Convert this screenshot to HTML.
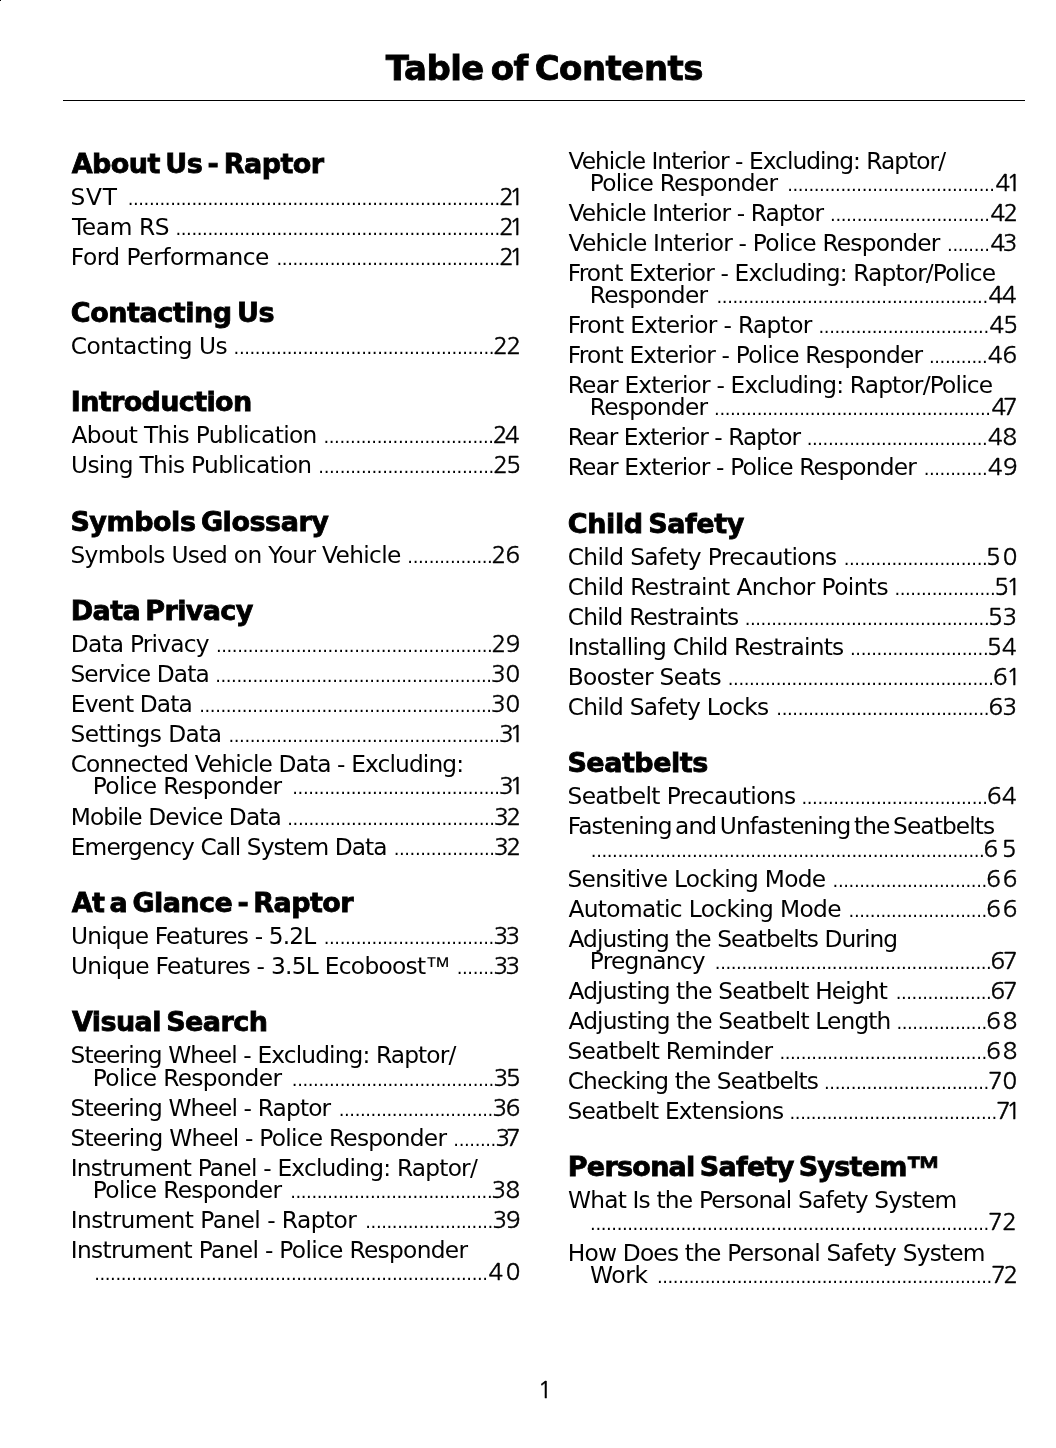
<!DOCTYPE html>
<html lang="en">
<head>
<meta charset="utf-8">
<title>Table of Contents</title>
<style>
*{margin:0;padding:0;box-sizing:border-box}
html,body{width:1056px;height:1448px;background:#fff;overflow:hidden}
body{color:#000;font-family:"DejaVu Sans", "Liberation Sans", sans-serif}
.page{position:relative;width:1056px;height:1448px;background:#fff;overflow:hidden}
.page h1,.page h2,.page hr,.page span,.page footer,.page i{position:absolute;white-space:nowrap}
.page ol{list-style:none}
i{left:0;top:0;width:1px;height:1px;background:#000}
h1{font:700 34px/44px "DejaVu Sans", "Liberation Sans", sans-serif;-webkit-text-stroke:.8px #000;letter-spacing:-.8px}
hr{border:0;height:1px;background:#000}
h2{font:700 27px/34px "DejaVu Sans", "Liberation Sans", sans-serif;-webkit-text-stroke:.8px #000;letter-spacing:-.7px}
.t{font:400 23.3px/30px "DejaVu Sans", "Liberation Sans", sans-serif;letter-spacing:-.65px}
.d{font:400 18px/30px "DejaVu Sans", "Liberation Sans", sans-serif;letter-spacing:-.404px}
.p,footer{font:400 24px/30px "NanumGothic", "DejaVu Sans", "Liberation Sans", sans-serif;-webkit-text-stroke:.4px #000}
.tm{font:inherit;font-family:"Liberation Sans","DejaVu Sans",sans-serif;font-size:111%;line-height:0;vertical-align:-.05em}
h2 .tm{font-size:132%;vertical-align:-.15em;margin-left:-1px}
</style>
</head>
<body>
<main class="page">
<i></i>
<header>
<h1 style="left:385.67px;top:46px;letter-spacing:-.516px;word-spacing:-4.5px">Table of Contents</h1>
<hr style="left:63px;top:100px;width:962px">
</header>
<div class="col">
<section>
<h2 style="left:71.65px;top:147px;letter-spacing:-.525px;word-spacing:-3.5px">About Us - Raptor</h2>
<ol>
<li><span class="t" style="left:70.47px;top:182px;letter-spacing:.827px">SVT</span><span class="d" style="left:127.63px;top:184px">......................................................................</span><span class="p" style="left:499.13px;top:181px;letter-spacing:-4.37px">21</span></li>
<li><span class="t" style="left:72px;top:212px;letter-spacing:-.41px">Team RS</span><span class="d" style="left:175.49px;top:214px">.............................................................</span><span class="p" style="left:499.13px;top:211px;letter-spacing:-4.37px">21</span></li>
<li><span class="t" style="left:70.8px;top:242px;letter-spacing:-.481px">Ford Performance</span><span class="d" style="left:276.5px;top:244px">..........................................</span><span class="p" style="left:499.13px;top:241px;letter-spacing:-4.37px">21</span></li>
</ol>
</section>
<section>
<h2 style="left:70.86px;top:296px;letter-spacing:-.466px;word-spacing:-3.5px">Contacting Us</h2>
<ol>
<li><span class="t" style="left:70.72px;top:331px;letter-spacing:-.531px">Contacting Us</span><span class="d" style="left:233.57px;top:333px">.................................................</span><span class="p" style="left:493.26px;top:330px;letter-spacing:-1.21px">22</span></li>
</ol>
</section>
<section>
<h2 style="left:70.84px;top:385px;letter-spacing:-.653px">Introduction</h2>
<ol>
<li><span class="t" style="left:71.51px;top:420px;letter-spacing:-.632px">About This Publication</span><span class="d" style="left:323.49px;top:422px">................................</span><span class="p" style="left:492.77px;top:419px;letter-spacing:-2.35px">24</span></li>
<li><span class="t" style="left:71.06px;top:450px;letter-spacing:-.689px">Using This Publication</span><span class="d" style="left:318.37px;top:452px">.................................</span><span class="p" style="left:493.13px;top:449px;letter-spacing:-1.46px">25</span></li>
</ol>
</section>
<section>
<h2 style="left:70.38px;top:505px;letter-spacing:-.466px;word-spacing:-3.5px">Symbols Glossary</h2>
<ol>
<li><span class="t" style="left:70.47px;top:540px;letter-spacing:-.668px">Symbols Used on Your Vehicle</span><span class="d" style="left:407.36px;top:542px">................</span><span class="p" style="left:491.6px;top:539px;letter-spacing:-.59px">26</span></li>
</ol>
</section>
<section>
<h2 style="left:70.84px;top:594px;letter-spacing:-.631px;word-spacing:-3.5px">Data Privacy</h2>
<ol>
<li><span class="t" style="left:70.8px;top:629px;letter-spacing:-.783px">Data Privacy</span><span class="d" style="left:215.91px;top:631px">....................................................</span><span class="p" style="left:491.6px;top:628px;letter-spacing:-.51px">29</span></li>
<li><span class="t" style="left:70.47px;top:659px;letter-spacing:-.896px">Service Data</span><span class="d" style="left:215.16px;top:661px">....................................................</span><span class="p" style="left:491.07px;top:658px;letter-spacing:-.09px">30</span></li>
<li><span class="t" style="left:70.8px;top:689px;letter-spacing:-.876px">Event Data</span><span class="d" style="left:199.2px;top:691px">.......................................................</span><span class="p" style="left:491.07px;top:688px;letter-spacing:-.09px">30</span></li>
<li><span class="t" style="left:70.47px;top:719px;letter-spacing:-.584px">Settings Data</span><span class="d" style="left:228.48px;top:721px">...................................................</span><span class="p" style="left:499.07px;top:718px;letter-spacing:-4.16px">31</span></li>
<li><span class="t" style="left:70.72px;top:749px;letter-spacing:-.88px">Connected Vehicle Data - Excluding:</span><span class="t" style="left:92.8px;top:771px;letter-spacing:-.658px">Police Responder</span><span class="d" style="left:292.29px;top:773px">.......................................</span><span class="p" style="left:499.07px;top:770px;letter-spacing:-4.16px">31</span></li>
<li><span class="t" style="left:70.8px;top:802px;letter-spacing:-.917px">Mobile Device Data</span><span class="d" style="left:287.29px;top:804px">.......................................</span><span class="p" style="left:494.07px;top:801px;letter-spacing:-2.1px">32</span></li>
<li><span class="t" style="left:70.8px;top:832px;letter-spacing:-.912px">Emergency Call System Data</span><span class="d" style="left:393.65px;top:834px">...................</span><span class="p" style="left:494.07px;top:831px;letter-spacing:-2.1px">32</span></li>
</ol>
</section>
<section>
<h2 style="left:71.65px;top:886px;letter-spacing:-.594px;word-spacing:-3.5px">At a Glance - Raptor</h2>
<ol>
<li><span class="t" style="left:71.06px;top:921px;letter-spacing:-.845px">Unique Features - 5.2L</span><span class="d" style="left:323.74px;top:923px">................................</span><span class="p" style="left:493.39px;top:920px;letter-spacing:-2.36px">33</span></li>
<li><span class="t" style="left:71.06px;top:951px;letter-spacing:-.725px">Unique Features - 3.5L Ecoboost<b class="tm">™</b></span><span class="d" style="left:456.69px;top:953px">.......</span><span class="p" style="left:493.39px;top:950px;letter-spacing:-2.36px">33</span></li>
</ol>
</section>
<section>
<h2 style="left:71.89px;top:1005px;letter-spacing:-.573px;word-spacing:-3.5px">Visual Search</h2>
<ol>
<li><span class="t" style="left:70.47px;top:1040px;letter-spacing:-.873px">Steering Wheel - Excluding: Raptor/</span><span class="t" style="left:92.8px;top:1063px;letter-spacing:-.658px">Police Responder</span><span class="d" style="left:291.83px;top:1065px">......................................</span><span class="p" style="left:493.39px;top:1062px;letter-spacing:-1.81px">35</span></li>
<li><span class="t" style="left:70.47px;top:1093px;letter-spacing:-.853px">Steering Wheel - Raptor</span><span class="d" style="left:338.69px;top:1095px">.............................</span><span class="p" style="left:492.39px;top:1092px;letter-spacing:-1.15px">36</span></li>
<li><span class="t" style="left:70.47px;top:1123px;letter-spacing:-.759px">Steering Wheel - Police Responder</span><span class="d" style="left:453.37px;top:1125px">........</span><span class="p" style="left:495.39px;top:1122px;letter-spacing:-3.9px">37</span></li>
<li><span class="t" style="left:70.77px;top:1153px;letter-spacing:-.79px">Instrument Panel - Excluding: Raptor/</span><span class="t" style="left:92.8px;top:1175px;letter-spacing:-.658px">Police Responder</span><span class="d" style="left:290.13px;top:1177px">......................................</span><span class="p" style="left:491.51px;top:1174px;letter-spacing:-.61px">38</span></li>
<li><span class="t" style="left:70.77px;top:1205px;letter-spacing:-.557px">Instrument Panel - Raptor</span><span class="d" style="left:365.28px;top:1207px">........................</span><span class="p" style="left:492.39px;top:1204px;letter-spacing:-.98px">39</span></li>
<li><span class="t" style="left:70.77px;top:1235px;letter-spacing:-.689px">Instrument Panel - Police Responder</span><span class="d" style="left:94.14px;top:1259px">..........................................................................</span><span class="p" style="left:488.56px;top:1256px;letter-spacing:2.54px">40</span></li>
</ol>
</section>
</div>
<div class="col">
<section>
<ol>
<li><span class="t" style="left:568.56px;top:146px;letter-spacing:-.977px">Vehicle Interior - Excluding: Raptor/</span><span class="t" style="left:589.8px;top:168px;letter-spacing:-.724px">Police Responder</span><span class="d" style="left:787.21px;top:170px">.......................................</span><span class="p" style="left:995.48px;top:167px;letter-spacing:-3.55px">41</span></li>
<li><span class="t" style="left:568.56px;top:198px;letter-spacing:-.882px">Vehicle Interior - Raptor</span><span class="d" style="left:830.07px;top:200px">..............................</span><span class="p" style="left:990.48px;top:197px;letter-spacing:-1.48px">42</span></li>
<li><span class="t" style="left:568.56px;top:228px;letter-spacing:-.769px">Vehicle Interior - Police Responder</span><span class="d" style="left:947.07px;top:230px">........</span><span class="p" style="left:990.48px;top:227px;letter-spacing:-2.33px">43</span></li>
<li><span class="t" style="left:567.8px;top:258px;letter-spacing:-.861px">Front Exterior - Excluding: Raptor/Police</span><span class="t" style="left:589.8px;top:280px;letter-spacing:-.725px">Responder</span><span class="d" style="left:716.5px;top:282px">...................................................</span><span class="p" style="left:988.53px;top:279px;letter-spacing:-1.15px">44</span></li>
<li><span class="t" style="left:567.8px;top:310px;letter-spacing:-.663px">Front Exterior - Raptor</span><span class="d" style="left:818.54px;top:312px">................................</span><span class="p" style="left:989.53px;top:309px;letter-spacing:-.87px">45</span></li>
<li><span class="t" style="left:567.8px;top:340px;letter-spacing:-.786px">Front Exterior - Police Responder</span><span class="d" style="left:928.95px;top:342px">...........</span><span class="p" style="left:988.11px;top:339px;letter-spacing:-.1px">46</span></li>
<li><span class="t" style="left:567.8px;top:370px;letter-spacing:-.815px">Rear Exterior - Excluding: Raptor/Police</span><span class="t" style="left:589.8px;top:392px;letter-spacing:-.725px">Responder</span><span class="d" style="left:714.1px;top:394px">....................................................</span><span class="p" style="left:991.56px;top:391px;letter-spacing:-3.05px">47</span></li>
<li><span class="t" style="left:567.8px;top:422px;letter-spacing:-.964px">Rear Exterior - Raptor</span><span class="d" style="left:806.64px;top:424px">..................................</span><span class="p" style="left:988.11px;top:421px;letter-spacing:-.2px">48</span></li>
<li><span class="t" style="left:567.8px;top:452px;letter-spacing:-.837px">Rear Exterior - Police Responder</span><span class="d" style="left:923.63px;top:454px">............</span><span class="p" style="left:988.11px;top:451px;letter-spacing:.25px">49</span></li>
</ol>
</section>
<section>
<h2 style="left:567.86px;top:507px;letter-spacing:-.411px;word-spacing:-3.5px">Child Safety</h2>
<ol>
<li><span class="t" style="left:567.72px;top:542px;letter-spacing:-.618px">Child Safety Precautions</span><span class="d" style="left:843.69px;top:544px">...........................</span><span class="p" style="left:986.03px;top:541px;letter-spacing:2.17px">50</span></li>
<li><span class="t" style="left:567.72px;top:572px;letter-spacing:-.616px">Child Restraint Anchor Points</span><span class="d" style="left:894.41px;top:574px">...................</span><span class="p" style="left:994.23px;top:571px;letter-spacing:-2.48px">51</span></li>
<li><span class="t" style="left:567.72px;top:602px;letter-spacing:-.785px">Child Restraints</span><span class="d" style="left:744.64px;top:604px">..............................................</span><span class="p" style="left:988.03px;top:601px;letter-spacing:-.08px">53</span></li>
<li><span class="t" style="left:567.77px;top:632px;letter-spacing:-.788px">Installing Child Restraints</span><span class="d" style="left:850px;top:634px">..........................</span><span class="p" style="left:987.03px;top:631px;letter-spacing:.34px">54</span></li>
<li><span class="t" style="left:567.8px;top:662px;letter-spacing:-.662px">Booster Seats</span><span class="d" style="left:727.79px;top:664px">..................................................</span><span class="p" style="left:992.98px;top:661px;letter-spacing:-1.14px">61</span></li>
<li><span class="t" style="left:567.72px;top:692px;letter-spacing:-.696px">Child Safety Locks</span><span class="d" style="left:776.37px;top:694px">........................................</span><span class="p" style="left:988.4px;top:691px;letter-spacing:-.45px">63</span></li>
</ol>
</section>
<section>
<h2 style="left:567.38px;top:746px;letter-spacing:-.486px">Seatbelts</h2>
<ol>
<li><span class="t" style="left:567.47px;top:781px;letter-spacing:-.612px">Seatbelt Precautions</span><span class="d" style="left:801.48px;top:783px">...................................</span><span class="p" style="left:986.95px;top:780px;letter-spacing:.43px">64</span></li>
<li><span class="t" style="left:567.8px;top:811px;letter-spacing:-.903px;word-spacing:-3px">Fastening and Unfastening the Seatbelts</span><span class="d" style="left:590.85px;top:836px">..........................................................................</span><span class="p" style="left:983.62px;top:833px;letter-spacing:3.71px">65</span></li>
<li><span class="t" style="left:567.47px;top:864px;letter-spacing:-.715px">Sensitive Locking Mode</span><span class="d" style="left:832.61px;top:866px">.............................</span><span class="p" style="left:986.19px;top:863px;letter-spacing:2.05px">66</span></li>
<li><span class="t" style="left:568.51px;top:894px;letter-spacing:-.664px">Automatic Locking Mode</span><span class="d" style="left:848.57px;top:896px">..........................</span><span class="p" style="left:986.19px;top:893px;letter-spacing:2.05px">66</span></li>
<li><span class="t" style="left:568.51px;top:924px;letter-spacing:-.946px">Adjusting the Seatbelts During</span><span class="t" style="left:589.8px;top:946px;letter-spacing:-.803px">Pregnancy</span><span class="d" style="left:714.85px;top:948px">....................................................</span><span class="p" style="left:990.62px;top:945px;letter-spacing:-2.11px">67</span></li>
<li><span class="t" style="left:568.51px;top:976px;letter-spacing:-.866px">Adjusting the Seatbelt Height</span><span class="d" style="left:895.66px;top:978px">..................</span><span class="p" style="left:990.62px;top:975px;letter-spacing:-2.11px">67</span></li>
<li><span class="t" style="left:568.51px;top:1006px;letter-spacing:-.859px">Adjusting the Seatbelt Length</span><span class="d" style="left:896.43px;top:1008px">.................</span><span class="p" style="left:986.19px;top:1005px;letter-spacing:2px">68</span></li>
<li><span class="t" style="left:567.47px;top:1036px;letter-spacing:-.699px">Seatbelt Reminder</span><span class="d" style="left:779.43px;top:1038px">.......................................</span><span class="p" style="left:986.19px;top:1035px;letter-spacing:2px">68</span></li>
<li><span class="t" style="left:567.72px;top:1066px;letter-spacing:-.901px">Checking the Seatbelts</span><span class="d" style="left:824.06px;top:1068px">...............................</span><span class="p" style="left:988.06px;top:1065px;letter-spacing:.02px">70</span></li>
<li><span class="t" style="left:567.47px;top:1096px;letter-spacing:-.806px">Seatbelt Extensions</span><span class="d" style="left:789.51px;top:1098px">.......................................</span><span class="p" style="left:996.06px;top:1095px;letter-spacing:-4.27px">71</span></li>
</ol>
</section>
<section>
<h2 style="left:567.84px;top:1150px;letter-spacing:-.745px;word-spacing:-3.5px">Personal Safety System<b class="tm">™</b></h2>
<ol>
<li><span class="t" style="left:568px;top:1185px;letter-spacing:-.812px">What Is the Personal Safety System</span><span class="d" style="left:590.07px;top:1209px">...........................................................................</span><span class="p" style="left:988.06px;top:1206px;letter-spacing:-.35px">72</span></li>
<li><span class="t" style="left:567.8px;top:1238px;letter-spacing:-.808px">How Does the Personal Safety System</span><span class="t" style="left:590px;top:1260px;letter-spacing:-.367px">Work</span><span class="d" style="left:656.88px;top:1262px">...............................................................</span><span class="p" style="left:991.06px;top:1259px;letter-spacing:-2.02px">72</span></li>
</ol>
</section>
</div>
<footer style="left:537.76px;top:1374px">1</footer>
</main>
</body>
</html>
